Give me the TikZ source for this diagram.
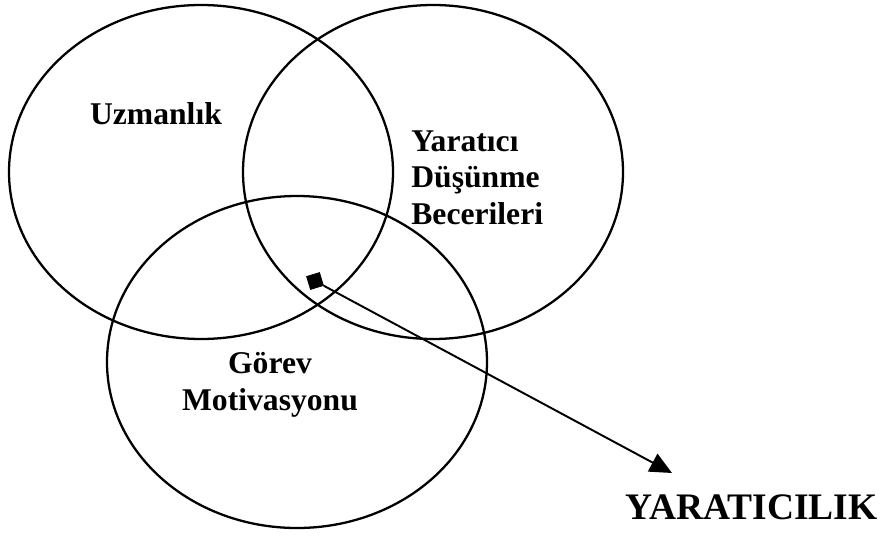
\documentclass[tikz,border=0pt]{standalone}
\usepackage{fontspec}
\setmainfont{Liberation Serif}
\usepackage{tikz}
\usetikzlibrary{arrows.meta,shapes.geometric}

\begin{document}
\begin{tikzpicture}[
  % ── shape styles ─────────────────────────────────────────
  venn/.style={line width=1.3pt, draw=black},
  % ── label styles ─────────────────────────────────────────
  lbl/.style={inner sep=0pt, font=\fontsize{18}{20.8}\selectfont\bfseries},
  biglbl/.style={inner sep=0pt, font=\fontsize{21.3}{24}\selectfont\bfseries},
  % ── core marker and arrow ────────────────────────────────
  core/.style={rectangle, fill=black, draw=black, inner sep=0pt,
    minimum size=0.27cm, rotate=17},
  pointer/.style={line width=1.1pt, -{Triangle[length=0.44cm,width=0.40cm]}},
]
\useasboundingbox (0,0) rectangle (17.62,10.70);

%% ── THREE OVERLAPPING ELLIPSES ─────────────────────────────
\draw[venn] (4.02,7.26) ellipse [x radius=3.84, y radius=3.34];
\draw[venn] (8.66,7.26) ellipse [x radius=3.80, y radius=3.34];
\draw[venn] (5.94,3.46) ellipse [x radius=3.80, y radius=3.32];

%% ── LABELS ──────────────────────────────────────────────────
\node[lbl, anchor=base] (uzm) at (3.12,8.22) {Uzmanlık};
\node[lbl, anchor=north west, align=left] (ydb) at (8.22,8.10)
  {Yaratıcı\\Düşünme\\Becerileri};
\node[lbl, anchor=north, align=center] (gm) at (5.40,3.66)
  {Görev\\Motivasyonu};

%% ── INTERSECTION MARKER AND ARROW ──────────────────────────
\node[core] (core) at (6.30,5.08) {};
\coordinate (tip) at (13.44,1.24);
\draw[pointer] (core) -- (tip);

\node[biglbl, anchor=base] (yar) at (15.03,0.32) {YARATICILIK};

\end{tikzpicture}
\end{document}
